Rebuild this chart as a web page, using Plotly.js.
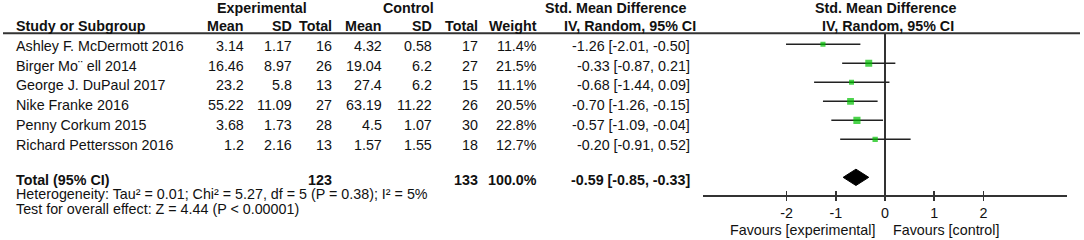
<!DOCTYPE html>
<html><head><meta charset="utf-8">
<script src="https://cdn.plot.ly/plotly-3.0.1.min.js"></script>
<style>html,body{margin:0;padding:0;background:#fff}#c{width:1084px;height:240px}</style>
</head><body><div id="c"></div>
<script>
// ---- data ----
const studies = ["Ashley F. McDermott 2016","Birger Mo\u00a8 ell 2014","George J. DuPaul 2017","Nike Franke 2016","Penny Corkum 2015","Richard Pettersson 2016"];
const expMean = ["3.14","16.46","23.2","55.22","3.68","1.2"];
const expSD = ["1.17","8.97","5.8","11.09","1.73","2.16"];
const expN = [16,26,13,27,28,13];
const ctlMean = ["4.32","19.04","27.4","63.19","4.5","1.57"];
const ctlSD = ["0.58","6.2","6.2","11.22","1.07","1.55"];
const ctlN = [17,27,15,26,30,18];
const weight = [11.4,21.5,11.1,20.5,22.8,12.7];
const smd = [-1.26,-0.33,-0.68,-0.70,-0.57,-0.20];
const ciLo = [-2.01,-0.87,-1.44,-1.26,-1.09,-0.91];
const ciHi = [-0.50,0.21,0.09,-0.15,-0.04,0.52];
const totalExpN = 123, totalCtlN = 133, totalWeight = 100.0;
const totalSmd = -0.59, totalLo = -0.85, totalHi = -0.33;
const tickVals = [-2,-1,0,1,2];
const tickText = ["-2","-1","0","1","2"];
const heterogeneity = "Heterogeneity: Tau\u00b2 = 0.01; Chi\u00b2 = 5.27, df = 5 (P = 0.38); I\u00b2 = 5%";
const overall = "Test for overall effect: Z = 4.44 (P < 0.00001)";
const favLeft = "Favours [experimental]", favRight = "Favours [control]";

// ---- layout helpers ----
const W = 1084, H = 240;
const FONT = "Liberation Sans, Arial, sans-serif";
const FS = 14.3;
const TXT = "#111";
const fx = p => p / W, fy = p => 1 - p / H;
const anns = [];
function ann(text, x, y, anchor, bold) {
  anns.push({text: bold ? "<b>" + text + "</b>" : text, xref: "paper", yref: "paper",
    x: fx(x), y: fy(y), xanchor: anchor, yanchor: "middle", showarrow: false,
    font: {family: FONT, size: FS, color: TXT}, borderpad: 0});
}
const colR = [245, 292.5, 333, 383, 433, 479, 538, 691];
const rowY = i => 45.8 + 19.75 * i;

// headers
ann("Experimental", 262, 8, "center", true);
ann("Control", 408, 8, "center", true);
ann("Std. Mean Difference", 615, 8, "center", true);
ann("Std. Mean Difference", 885.5, 8, "center", true);
ann("Study or Subgroup", 15, 26.5, "left", true);
["Mean","SD","Total","Mean","SD","Total","Weight"].forEach((h, k) => ann(h, colR[k], 26.5, "right", true));
ann("IV, Random, 95% CI", 630, 26.5, "center", true);
ann("IV, Random, 95% CI", 888, 26.5, "center", true);

// rows
studies.forEach((s, i) => {
  const y = rowY(i);
  ann(s, 15, y, "left");
  const vals = [expMean[i], expSD[i], String(expN[i]), ctlMean[i], ctlSD[i], String(ctlN[i]),
    weight[i].toFixed(1) + "%",
    smd[i].toFixed(2) + " [" + ciLo[i].toFixed(2) + ", " + ciHi[i].toFixed(2) + "]"];
  vals.forEach((v, k) => ann(v, colR[k], y, "right"));
});
// total
const ty = 180;
ann("Total (95% CI)", 15, ty, "left", true);
ann(String(totalExpN), colR[2], ty, "right", true);
ann(String(totalCtlN), colR[5], ty, "right", true);
ann(totalWeight.toFixed(1) + "%", colR[6], ty, "right", true);
ann(totalSmd.toFixed(2) + " [" + totalLo.toFixed(2) + ", " + totalHi.toFixed(2) + "]", colR[7], ty, "right", true);
ann(heterogeneity, 15, 194, "left");
ann(overall, 15, 209, "left");
ann(favLeft, 876, 230, "right");
ann(favRight, 891.7, 230, "left");

// ---- traces ----
const wx = [], wy = [];
smd.forEach((m, i) => { wx.push(ciLo[i], ciHi[i], null); wy.push(i, i, null); });
const whiskers = {x: wx, y: wy, mode: "lines", line: {color: "#222", width: 1.5},
  hoverinfo: "skip", showlegend: false};
const squares = {x: smd, y: smd.map((_, i) => i), mode: "markers",
  marker: {symbol: "square", color: "#00c000", size: weight.map(w => 1.5 * Math.sqrt(w)), line: {width: 0}},
  showlegend: false};
const tr = studies.length + 1, dh = 0.43;
const diamond = {x: [totalLo, totalSmd, totalHi, totalSmd, totalLo],
  y: [tr, tr - dh, tr, tr + dh, tr], mode: "lines", fill: "toself",
  fillcolor: "#000", line: {color: "#000", width: 1}, showlegend: false, hoverinfo: "skip"};
const dummy = {x: [0], y: [null], xaxis: "x2", mode: "markers", showlegend: false, hoverinfo: "skip"};

const dom = [703.3 / W, 1066.7 / W];
const yTop = -0.595, yBot = 7.93;
const layout = {
  width: W, height: H, margin: {l: 0, r: 0, t: 0, b: 0},
  paper_bgcolor: "#fff", plot_bgcolor: "rgba(0,0,0,0)",
  font: {family: FONT, size: FS, color: TXT},
  xaxis: {domain: dom, range: [-3.69, 3.69], showgrid: false, zeroline: true,
    zerolinecolor: "#333", zerolinewidth: 1.5, showline: true, linecolor: "#333", linewidth: 2,
    ticks: "outside", ticklen: 4, tickwidth: 1.5, tickcolor: "#333",
    tickvals: tickVals, ticktext: tickText, tickfont: {family: FONT, size: FS, color: TXT},
    fixedrange: true},
  xaxis2: {domain: dom, range: [-3.69, 3.69], overlaying: "x", anchor: "y", side: "bottom",
    showgrid: false, zeroline: false, showline: false, ticks: "inside", ticklen: 4,
    tickwidth: 1.5, tickcolor: "#333", tickvals: tickVals, showticklabels: false},
  yaxis: {domain: [45 / H, 207 / H], range: [yBot, yTop], visible: false, fixedrange: true},
  shapes: [{type: "line", xref: "paper", yref: "paper", x0: fx(3), x1: fx(1080),
    y0: fy(33.3), y1: fy(33.3), line: {color: "#333", width: 2}}],
  annotations: anns
};
Plotly.newPlot("c", [whiskers, squares, diamond, dummy], layout, {staticPlot: true, displayModeBar: false});
</script></body></html>
